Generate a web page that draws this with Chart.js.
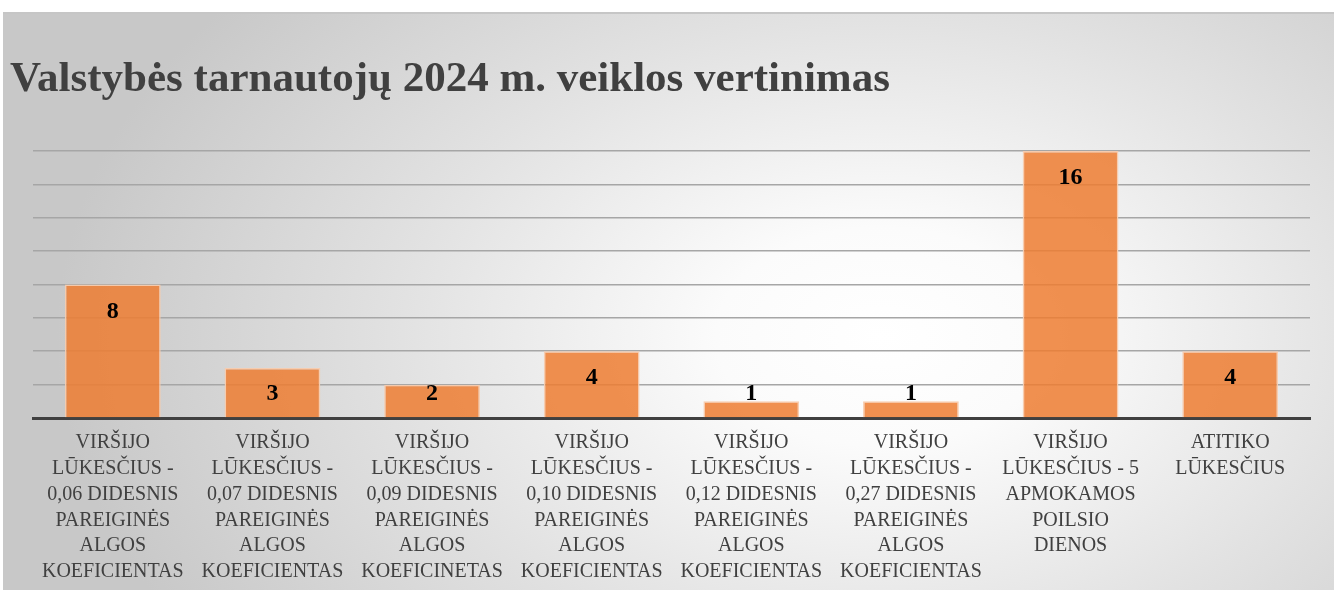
<!DOCTYPE html>
<html>
<head>
<meta charset="utf-8">
<script src="https://cdn.jsdelivr.net/npm/chart.js@4.4.1/dist/chart.umd.min.js"></script>
<style>
  html, body { margin: 0; padding: 0; background: #ffffff; }
  #frame {
    position: absolute;
    left: 3px;
    top: 12px;
    width: 1331px;
    height: 578px;
    border-top: 2px solid #c6c6c6;
    box-sizing: border-box;
    background: radial-gradient(ellipse 62% 95% at 66% 56%, #ffffff 0%, #fbfbfb 20%, #e2e2e2 58%, #c8c8c8 100%);
  }
  #chartCanvas { display: block; }
</style>
</head>
<body>
<div id="frame">
  <canvas id="chartCanvas" width="1331" height="576"></canvas>
</div>
<script>
const chartTitle = 'Valstybės tarnautojų 2024 m. veiklos vertinimas';

const categories = [
  ['VIRŠIJO', 'LŪKESČIUS -', '0,06 DIDESNIS', 'PAREIGINĖS', 'ALGOS', 'KOEFICIENTAS'],
  ['VIRŠIJO', 'LŪKESČIUS -', '0,07 DIDESNIS', 'PAREIGINĖS', 'ALGOS', 'KOEFICIENTAS'],
  ['VIRŠIJO', 'LŪKESČIUS -', '0,09 DIDESNIS', 'PAREIGINĖS', 'ALGOS', 'KOEFICINETAS'],
  ['VIRŠIJO', 'LŪKESČIUS -', '0,10 DIDESNIS', 'PAREIGINĖS', 'ALGOS', 'KOEFICIENTAS'],
  ['VIRŠIJO', 'LŪKESČIUS -', '0,12 DIDESNIS', 'PAREIGINĖS', 'ALGOS', 'KOEFICIENTAS'],
  ['VIRŠIJO', 'LŪKESČIUS -', '0,27 DIDESNIS', 'PAREIGINĖS', 'ALGOS', 'KOEFICIENTAS'],
  ['VIRŠIJO', 'LŪKESČIUS - 5', 'APMOKAMOS', 'POILSIO', 'DIENOS'],
  ['ATITIKO', 'LŪKESČIUS']
];

const employeeCounts = [8, 3, 2, 4, 1, 1, 16, 4];

const yMin = 0;
const yMax = 16;
const yStep = 2;

const serifFont = '"Liberation Serif", "Times New Roman", serif';

// value labels sit near the top inside each bar, but never lower than near the baseline
const barValueLabels = {
  id: 'barValueLabels',
  afterDatasetsDraw(chart) {
    const ctx = chart.ctx;
    const meta = chart.getDatasetMeta(0);
    ctx.save();
    ctx.font = 'bold 24px ' + serifFont;
    ctx.fillStyle = '#000000';
    ctx.textAlign = 'center';
    ctx.textBaseline = 'middle';
    meta.data.forEach((bar, index) => {
      const y = Math.min(bar.y + 27, bar.base - 23);
      ctx.fillText(String(employeeCounts[index]), bar.x, y);
    });
    ctx.restore();
  }
};

const ctx = document.getElementById('chartCanvas').getContext('2d');
const chart = new Chart(ctx, {
  type: 'bar',
  data: {
    labels: categories,
    datasets: [{
      data: employeeCounts,
      backgroundColor: 'rgba(237, 125, 49, 0.85)',
      borderColor: 'rgba(248, 203, 173, 0.95)',
      borderWidth: 1.5,
      categoryPercentage: 1,
      barPercentage: 0.6
    }]
  },
  options: {
    responsive: false,
    animation: false,
    layout: {
      padding: { left: 7, right: 24, top: 0, bottom: 0 }
    },
    plugins: {
      legend: { display: false },
      tooltip: { enabled: false },
      title: {
        display: true,
        text: chartTitle,
        align: 'start',
        color: '#404040',
        font: { family: serifFont, size: 43, weight: 'bold' },
        padding: { top: 40, bottom: 45.4 }
      }
    },
    scales: {
      x: {
        grid: { display: false, drawTicks: false },
        border: { display: true, color: '#404040', width: 3 },
        ticks: {
          color: '#404040',
          font: { family: serifFont, size: 20, lineHeight: 1.29 },
          padding: 12,
          maxRotation: 0,
          autoSkip: false
        },
        afterFit(scale) { scale.height = 172; }
      },
      y: {
        min: yMin,
        max: yMax,
        grid: { color: '#a6a6a6', lineWidth: 1.6, drawTicks: false },
        border: { display: false },
        ticks: { display: false, stepSize: yStep },
        afterFit(scale) { scale.width = 23; }
      }
    }
  },
  plugins: [barValueLabels]
});
</script>
</body>
</html>
